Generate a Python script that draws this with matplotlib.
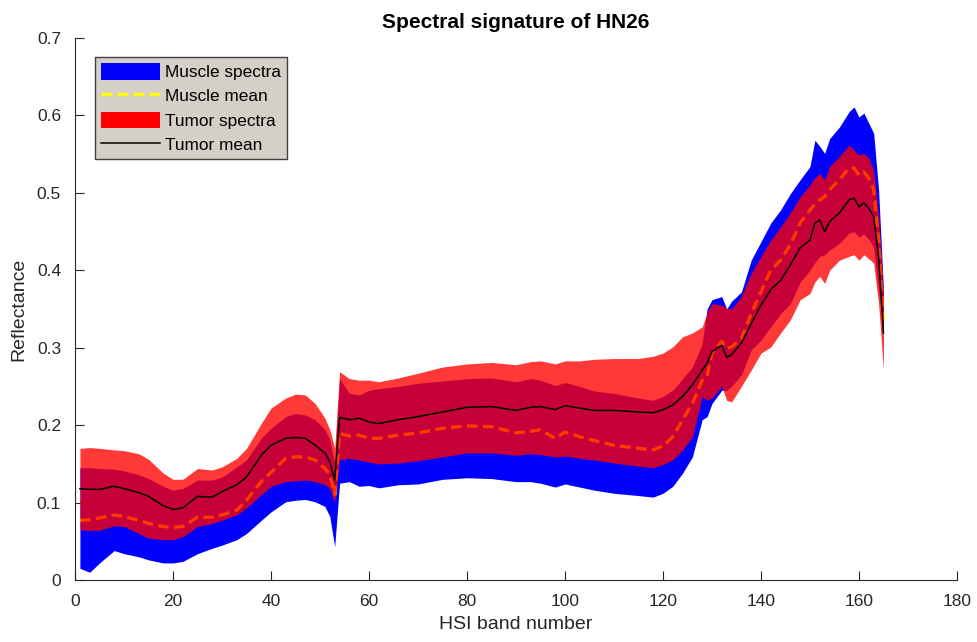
import numpy as np
import matplotlib
matplotlib.use("Agg")
import matplotlib.pyplot as plt
from matplotlib.patches import Patch
from matplotlib.lines import Line2D

plt.rcParams["font.family"] = ["Liberation Sans", "DejaVu Sans"]

# HSI band positions where the spectra were sampled
bands = [1, 3, 5, 8, 10, 13, 15, 18, 20, 22, 25, 28, 30, 33, 35, 38, 40, 43, 45, 47,
         49, 51, 52, 53, 54, 56, 58, 60, 62, 66, 70, 75, 80, 85, 90, 93, 95, 98, 100,
         103, 106, 110, 115, 118, 120, 122, 124, 126, 128, 129, 130, 132, 133, 134,
         136, 138, 140, 142, 144, 146, 148, 150, 151, 152, 153, 154, 156, 158, 159,
         160, 161, 162, 163, 164, 165]

# tumor: upper / lower envelope and mean
tumor_upper = [0.170, 0.171, 0.170, 0.168, 0.167, 0.163, 0.156, 0.138, 0.130, 0.130,
               0.144, 0.142, 0.146, 0.157, 0.170, 0.202, 0.222, 0.235, 0.240, 0.239,
               0.228, 0.209, 0.194, 0.170, 0.269, 0.260, 0.258, 0.258, 0.256, 0.261,
               0.267, 0.275, 0.279, 0.281, 0.278, 0.282, 0.283, 0.279, 0.283, 0.283,
               0.285, 0.286, 0.286, 0.289, 0.293, 0.301, 0.314, 0.319, 0.327, 0.345,
               0.357, 0.355, 0.351, 0.350, 0.366, 0.396, 0.418, 0.439, 0.456, 0.474,
               0.495, 0.510, 0.520, 0.525, 0.517, 0.534, 0.547, 0.562, 0.555, 0.549,
               0.551, 0.545, 0.529, 0.469, 0.366]
tumor_lower = [0.065, 0.064, 0.064, 0.070, 0.069, 0.060, 0.054, 0.052, 0.052, 0.056,
               0.069, 0.073, 0.077, 0.084, 0.093, 0.110, 0.121, 0.127, 0.128, 0.129,
               0.127, 0.123, 0.118, 0.100, 0.155, 0.157, 0.155, 0.152, 0.150, 0.151,
               0.154, 0.159, 0.164, 0.164, 0.161, 0.163, 0.162, 0.159, 0.160, 0.157,
               0.155, 0.151, 0.147, 0.145, 0.149, 0.155, 0.168, 0.185, 0.237, 0.232,
               0.235, 0.250, 0.232, 0.230, 0.250, 0.271, 0.293, 0.301, 0.319, 0.336,
               0.362, 0.370, 0.385, 0.392, 0.383, 0.400, 0.413, 0.418, 0.420, 0.413,
               0.420, 0.415, 0.409, 0.357, 0.271]
tumor_mean = [0.118, 0.117, 0.117, 0.121, 0.118, 0.113, 0.108, 0.096, 0.091, 0.093,
              0.108, 0.107, 0.114, 0.123, 0.133, 0.161, 0.174, 0.183, 0.184, 0.183,
              0.174, 0.164, 0.153, 0.129, 0.210, 0.207, 0.209, 0.204, 0.202, 0.207,
              0.211, 0.217, 0.223, 0.224, 0.219, 0.223, 0.224, 0.220, 0.225, 0.222,
              0.219, 0.219, 0.217, 0.216, 0.220, 0.226, 0.237, 0.252, 0.271, 0.280,
              0.295, 0.303, 0.288, 0.291, 0.306, 0.331, 0.355, 0.375, 0.387, 0.407,
              0.429, 0.439, 0.461, 0.465, 0.450, 0.463, 0.474, 0.491, 0.493, 0.482,
              0.487, 0.480, 0.469, 0.418, 0.319]

# muscle: upper / lower envelope and mean
muscle_upper = [0.145, 0.145, 0.144, 0.143, 0.141, 0.136, 0.131, 0.121, 0.116, 0.118,
                0.129, 0.129, 0.133, 0.146, 0.155, 0.183, 0.196, 0.211, 0.215, 0.213,
                0.207, 0.194, 0.181, 0.150, 0.260, 0.241, 0.239, 0.245, 0.247, 0.250,
                0.254, 0.257, 0.260, 0.261, 0.256, 0.260, 0.258, 0.251, 0.255, 0.250,
                0.244, 0.241, 0.235, 0.232, 0.237, 0.245, 0.260, 0.275, 0.305, 0.350,
                0.362, 0.366, 0.350, 0.360, 0.372, 0.413, 0.437, 0.461, 0.478, 0.499,
                0.517, 0.534, 0.568, 0.560, 0.551, 0.570, 0.585, 0.605, 0.611, 0.598,
                0.603, 0.590, 0.577, 0.504, 0.375]
muscle_lower = [0.015, 0.010, 0.022, 0.038, 0.034, 0.030, 0.026, 0.022, 0.022, 0.024,
                0.034, 0.041, 0.045, 0.052, 0.060, 0.077, 0.088, 0.101, 0.103, 0.104,
                0.101, 0.095, 0.082, 0.043, 0.125, 0.127, 0.121, 0.122, 0.119, 0.123,
                0.124, 0.130, 0.132, 0.131, 0.127, 0.127, 0.125, 0.120, 0.124, 0.120,
                0.116, 0.112, 0.109, 0.107, 0.112, 0.121, 0.138, 0.159, 0.207, 0.211,
                0.228, 0.245, 0.245, 0.250, 0.265, 0.297, 0.310, 0.327, 0.344, 0.357,
                0.385, 0.400, 0.410, 0.418, 0.420, 0.426, 0.435, 0.448, 0.450, 0.443,
                0.447, 0.440, 0.430, 0.375, 0.323]
muscle_mean = [0.077, 0.078, 0.080, 0.084, 0.082, 0.077, 0.073, 0.069, 0.068, 0.069,
               0.081, 0.081, 0.084, 0.090, 0.103, 0.127, 0.139, 0.157, 0.159, 0.159,
               0.155, 0.144, 0.136, 0.110, 0.189, 0.186, 0.187, 0.183, 0.183, 0.187,
               0.190, 0.196, 0.199, 0.198, 0.190, 0.192, 0.194, 0.183, 0.191, 0.185,
               0.180, 0.174, 0.170, 0.168, 0.173, 0.185, 0.207, 0.228, 0.258, 0.263,
               0.293, 0.308, 0.299, 0.301, 0.312, 0.344, 0.372, 0.400, 0.413, 0.433,
               0.461, 0.478, 0.485, 0.491, 0.495, 0.504, 0.517, 0.532, 0.532, 0.523,
               0.527, 0.519, 0.504, 0.439, 0.336]

INK = "#262626"
TUMOR_ALPHA = 0.78

fig = plt.figure(figsize=(9.78, 6.42), dpi=100, facecolor="white")
ax = fig.add_axes([0.0767, 0.0966, 0.9018, 0.8442])

ax.fill_between(bands, muscle_lower, muscle_upper, color="#0000FF", lw=0, zorder=1)
ax.plot(bands, muscle_mean, color="#FFFF00", lw=2.4, ls=(0, (3.2, 1.6)), zorder=2)
ax.fill_between(bands, tumor_lower, tumor_upper, color="#FF0000", alpha=TUMOR_ALPHA,
                lw=0, zorder=3)
ax.plot(bands, tumor_mean, color="black", lw=1.1, zorder=4)

ax.set_xlim(0, 180)
ax.set_ylim(0, 0.7)
ax.set_xticks(np.arange(0, 181, 20))
ax.set_yticks(np.arange(0, 0.71, 0.1))
ax.set_yticklabels(["0", "0.1", "0.2", "0.3", "0.4", "0.5", "0.6", "0.7"])

for side in ("top", "right"):
    ax.spines[side].set_visible(False)
for side in ("left", "bottom"):
    ax.spines[side].set_color(INK)
    ax.spines[side].set_linewidth(0.8)
ax.tick_params(direction="in", length=6.5, width=0.8, colors=INK, labelsize=12.5, pad=10)

ax.set_xlabel("HSI band number", fontsize=14, color=INK, labelpad=5)
ax.set_ylabel("Reflectance", fontsize=14, color=INK, labelpad=7)
ax.set_title("Spectral signature of HN26", fontsize=15, fontweight="bold", color="black",
             pad=7)

handles = [
    Patch(facecolor="#0000FF", edgecolor="none"),
    Line2D([0], [0], color="#FFFF00", lw=2.4, ls=(0, (3.2, 1.6))),
    Patch(facecolor="#FF0000", edgecolor="none"),
    Line2D([0], [0], color="black", lw=1.1),
]
labels = ["Muscle spectra", "Muscle mean", "Tumor spectra", "Tumor mean"]
leg = ax.legend(handles, labels, loc="upper left", bbox_to_anchor=(0.0227, 0.965),
                borderaxespad=0, fontsize=12.4, frameon=True, fancybox=False,
                handlelength=3.4, handleheight=1.1, handletextpad=0.3,
                labelspacing=0.42, borderpad=0.35)
frame = leg.get_frame()
frame.set_facecolor("#D4D0C8")
frame.set_edgecolor("#404040")
frame.set_linewidth(1.0)
frame.set_alpha(1.0)

fig.savefig("out.png", dpi=100, facecolor="white")
